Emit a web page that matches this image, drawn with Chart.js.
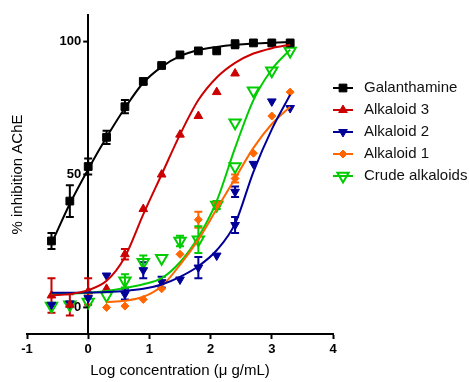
<!DOCTYPE html>
<html><head><meta charset="utf-8">
<script src="https://cdn.jsdelivr.net/npm/chart.js@4/dist/chart.umd.min.js"></script>
<style>html,body{margin:0;padding:0;background:#fff}</style>
</head><body>
<canvas id="c" width="469" height="382"></canvas>
<script>
const FONT = '"Liberation Sans", Arial, sans-serif';
const seriesNames = ['Galanthamine', 'Alkaloid 3', 'Alkaloid 2', 'Alkaloid 1', 'Crude alkaloids'];
const xTicks = [-1, 0, 1, 2, 3, 4];
const yTicks = [0, 50, 100];

// Galanthamine
const galX = [-0.6, -0.3, 0, 0.3, 0.6, 0.9, 1.2, 1.5, 1.8, 2.1, 2.4, 2.7, 3.0, 3.3];
const galY = [25, 40, 53, 64, 75.5, 85, 91, 95, 96.5, 96.5, 99, 99.5, 99.5, 99.5];
const galErr = [3, 6, 3, 2.5, 2.5, 1, 0.5, 0.5, 0.5, 0.5, 1.5, 0.5, 0.5, 0.5];
const galFitX = [-0.6, -0.3, 0, 0.3, 0.6, 0.9, 1.2, 1.5, 1.8, 2.1, 2.4, 2.7, 3.0, 3.3];
const galFitY = [24, 39, 52, 64, 75, 84.5, 90.5, 94.5, 96.8, 98, 98.8, 99.3, 99.6, 99.8];

// Alkaloid 3
const alk3X = [-0.6, -0.3, 0, 0.3, 0.6, 0.9, 1.2, 1.5, 1.8, 2.1, 2.4];
const alk3Y = [4.5, 1, 6, 7, 20, 37, 50, 65, 72, 81, 88];
const alk3Err = [6.5, 4, 5, 0, 2, 0, 0, 0, 0, 0, 0];
const alk3FitX = [-0.6, -0.3, 0, 0.3, 0.6, 0.9, 1.2, 1.5, 1.8, 2.1, 2.4, 2.7, 3.0, 3.3];
const alk3FitY = [4.5, 5, 6.5, 10, 19, 35, 50, 65, 78, 86.5, 92, 95.5, 97.5, 98.8];

// Alkaloid 2
const alk2X = [-0.6, -0.3, 0, 0.3, 0.6, 0.9, 1.2, 1.5, 1.8, 2.1, 2.4, 2.4, 2.7, 3.0, 3.3];
const alk2Y = [1, 1.5, 3.5, 12, 5, 14, 9.5, 10.5, 15, 19.5, 43.5, 31, 54, 77.5, 75];
const alk2Err = [0, 0, 0, 0, 2, 3, 2, 0, 4, 0, 2, 3, 0, 0, 0];
const alk2FitX = [-0.6, -0.3, 0, 0.3, 0.6, 0.9, 1.2, 1.5, 1.8, 2.1, 2.4, 2.7, 3.0, 3.3];
const alk2FitY = [5.5, 5.5, 5.6, 5.8, 6.2, 7, 8.6, 11.5, 15.5, 21.5, 31.5, 51, 67, 80];

// Alkaloid 1
const alk1X = [0.3, 0.6, 0.9, 1.2, 1.5, 1.8, 2.1, 2.4, 2.7, 3.0, 3.3];
const alk1Y = [0, 0.5, 3, 7, 20, 33, 39, 48.5, 58, 72, 81];
const alk1Err = [0, 0, 0, 0, 0, 3, 1, 1.5, 0, 0, 0];
const alk1FitX = [0.3, 0.6, 0.9, 1.2, 1.5, 1.8, 2.1, 2.4, 2.7, 3.0, 3.3];
const alk1FitY = [2, 2.5, 4, 8, 16, 25.5, 37, 48.5, 60, 69, 75.5];

// Crude alkaloids
const crudeX = [-0.6, -0.3, 0, 0.3, 0.6, 0.9, 1.2, 1.5, 1.8, 2.1, 2.4, 2.4, 2.7, 3.0, 3.3];
const crudeY = [0.5, 1, 2, 4.5, 10, 17, 18.5, 25, 25.5, 38.5, 69.5, 53, 81.5, 89, 96.5];
const crudeErr = [0, 0, 0, 0, 2.5, 2.5, 0, 2, 5, 1.5, 0, 0, 0, 0, 0];
const crudeFitX = [-0.6, -0.3, 0, 0.3, 0.6, 0.9, 1.2, 1.5, 1.8, 2.1, 2.4, 2.7, 3.0, 3.3];
const crudeFitY = [5, 5.2, 5.5, 6.2, 7.3, 8.7, 11, 17, 26.5, 40, 60, 78, 89.5, 97];

const series = [
  {name: seriesNames[0], px: galX, py: galY, err: galErr, fx: galFitX, fy: galFitY, color: '#000000', style: 'rect', rot: 0, r: 5.5, fill: '#000000', bw: 1},
  {name: seriesNames[1], px: alk3X, py: alk3Y, err: alk3Err, fx: alk3FitX, fy: alk3FitY, color: '#cc0000', style: 'triangle', rot: 0, r: 5, fill: '#cc0000', bw: 1},
  {name: seriesNames[2], px: alk2X, py: alk2Y, err: alk2Err, fx: alk2FitX, fy: alk2FitY, color: '#000099', style: 'triangle', rot: 180, r: 5, fill: '#000099', bw: 1},
  {name: seriesNames[3], px: alk1X, py: alk1Y, err: alk1Err, fx: alk1FitX, fy: alk1FitY, color: '#ff6600', style: 'rectRot', rot: 0, r: 4, fill: '#ff6600', bw: 1},
  {name: seriesNames[4], px: crudeX, py: crudeY, err: crudeErr, fx: crudeFitX, fy: crudeFitY, color: '#00cc00', style: 'triangle', rot: 180, r: 6.5, fill: 'rgba(255,255,255,0)', bw: 2}
];

const datasets = [];
series.forEach(s => {
  datasets.push({
    label: s.name + ' fit',
    data: s.fx.map((x, i) => ({x, y: s.fy[i]})),
    showLine: true, borderColor: s.color, borderWidth: 2,
    pointRadius: 0, cubicInterpolationMode: 'monotone', fill: false
  });
});
series.forEach(s => {
  datasets.push({
    label: s.name,
    data: s.px.map((x, i) => ({x, y: s.py[i]})),
    showLine: false, pointStyle: s.style, pointRotation: s.rot, pointRadius: s.r,
    backgroundColor: s.fill, borderColor: s.color, borderWidth: s.bw
  });
});

const errPlugin = {
  id: 'errbars',
  beforeDatasetsDraw(chart) {
    const {ctx, scales: {x, y}} = chart;
    series.forEach(s => {
      ctx.save();
      ctx.strokeStyle = s.color; ctx.lineWidth = 2;
      s.px.forEach((xv, i) => {
        const e = s.err[i]; if (!e) return;
        const px = x.getPixelForValue(xv);
        const y1 = y.getPixelForValue(s.py[i] + e), y2 = y.getPixelForValue(s.py[i] - e);
        ctx.beginPath();
        ctx.moveTo(px, y1); ctx.lineTo(px, y2);
        ctx.moveTo(px - 4, y1); ctx.lineTo(px + 4, y1);
        ctx.moveTo(px - 4, y2); ctx.lineTo(px + 4, y2);
        ctx.stroke();
      });
      ctx.restore();
    });
  }
};

// y-axis ticks and labels, placed beside the axis that crosses at x = 0
const yLabelPlugin = {
  id: 'yLabels',
  afterDatasetsDraw(chart) {
    const {ctx, scales: {x, y}} = chart;
    const ax = x.getPixelForValue(0);
    ctx.save();
    ctx.strokeStyle = '#000'; ctx.lineWidth = 2;
    ctx.fillStyle = '#000'; ctx.font = 'bold 13px ' + FONT;
    ctx.textAlign = 'right'; ctx.textBaseline = 'middle';
    yTicks.forEach(v => {
      const py = y.getPixelForValue(v);
      ctx.beginPath(); ctx.moveTo(ax - 5, py); ctx.lineTo(ax, py); ctx.stroke();
      ctx.fillText(String(v), ax - 7, py);
    });
    ctx.restore();
  }
};

const legendPlugin = {
  id: 'lineLegend',
  afterDraw(chart) {
    const {ctx, chartArea} = chart;
    const lx = chartArea.right;
    series.forEach((s, i) => {
      const ly = chartArea.top + 73 + 22 * i;
      ctx.save();
      ctx.strokeStyle = s.color; ctx.lineWidth = 2;
      ctx.beginPath(); ctx.moveTo(lx, ly); ctx.lineTo(lx + 20, ly); ctx.stroke();
      ctx.fillStyle = s.fill; ctx.strokeStyle = s.color; ctx.lineWidth = s.bw;
      Chart.helpers.drawPoint(ctx, {pointStyle: s.style, rotation: s.rot, radius: s.r, borderWidth: s.bw}, lx + 10, ly);
      ctx.fillStyle = '#111'; ctx.font = '15px ' + FONT; ctx.textBaseline = 'middle'; ctx.textAlign = 'left';
      ctx.fillText(s.name, lx + 31, ly);
      ctx.restore();
    });
  }
};

new Chart(document.getElementById('c'), {
  type: 'scatter',
  data: {datasets},
  plugins: [errPlugin, yLabelPlugin, legendPlugin],
  options: {
    responsive: false, animation: false, devicePixelRatio: 1,
    layout: {padding: {left: 0, top: 15, right: 136, bottom: 0}},
    plugins: {legend: {display: false}, tooltip: {enabled: false}},
    scales: {
      x: {
        type: 'linear', min: -1, max: 4, position: 'bottom',
        afterBuildTicks: s => { s.ticks = xTicks.map(v => ({value: v})); },
        afterFit: s => { s.height = 48; },
        grid: {drawOnChartArea: false, drawTicks: true, tickLength: 5, tickWidth: 2, tickColor: '#000'},
        border: {display: true, color: '#000', width: 2},
        ticks: {color: '#000', font: {family: FONT, size: 13, weight: 'bold'}, padding: 3, maxRotation: 0},
        title: {display: true, text: 'Log concentration (μ g/mL)', color: '#000', font: {family: FONT, size: 15}, padding: {top: 0, bottom: 2}}
      },
      y: {
        type: 'linear', min: -10, max: 110, position: {x: 0},
        afterBuildTicks: s => { s.ticks = yTicks.map(v => ({value: v})); },
        grid: {display: false, drawOnChartArea: false, drawTicks: false},
        border: {display: true, color: '#000', width: 2},
        ticks: {display: false}
      },
      yt: {
        type: 'linear', position: 'left', min: 0, max: 1,
        afterFit: s => { s.width = 27; },
        grid: {display: false, drawTicks: false}, border: {display: false}, ticks: {display: false},
        title: {display: true, text: '% inhibition AChE', color: '#000', font: {family: FONT, size: 15}, padding: {top: 9, bottom: 0}}
      }
    }
  }
});
</script>
</body></html>
